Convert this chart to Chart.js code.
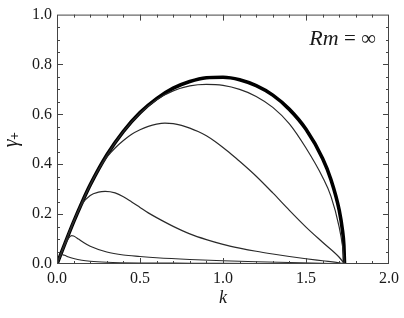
<!DOCTYPE html>
<html>
<head>
<meta charset="utf-8">
<script src="https://cdn.jsdelivr.net/npm/chart.js@4.4.1/dist/chart.umd.min.js"></script>
<style>
  html, body { margin: 0; padding: 0; background: #fff; }
  canvas { display: block; }
</style>
</head>
<body>
<canvas id="c" width="404" height="318"></canvas>
<script>
// Growth rate gamma_+ against k, Rm = infinity. Outer (thick) curve is the envelope,
// thinner curves peel off it at smaller k.
const kOuter = [0, 0.03, 0.05, 0.1, 0.15, 0.2, 0.3, 0.4, 0.5, 0.6, 0.7, 0.8, 0.9, 1.0, 1.1, 1.2, 1.3, 1.4, 1.5, 1.6, 1.65, 1.7, 1.72, 1.728, 1.732];
const gOuter = [0, 0.052, 0.086, 0.169, 0.246, 0.317, 0.437, 0.532, 0.607, 0.663, 0.705, 0.732, 0.747, 0.749, 0.739, 0.715, 0.677, 0.620, 0.540, 0.423, 0.339, 0.216, 0.133, 0.077, 0];

const kA = [0, 0.1, 0.2, 0.3, 0.4, 0.5, 0.6, 0.7, 0.8, 0.9, 1.0, 1.1, 1.2, 1.3, 1.4, 1.5, 1.6, 1.65, 1.7, 1.72, 1.732];
const gA = [0, 0.169, 0.317, 0.436, 0.531, 0.605, 0.659, 0.694, 0.714, 0.720, 0.716, 0.700, 0.672, 0.628, 0.562, 0.465, 0.348, 0.272, 0.148, 0.072, 0];

const kB = [0, 0.1, 0.2, 0.25, 0.3, 0.35, 0.4, 0.45, 0.5, 0.55, 0.6, 0.65, 0.7, 0.75, 0.8, 0.85, 0.9, 0.95, 1.0, 1.05, 1.1, 1.2, 1.3, 1.4, 1.5, 1.6, 1.7, 1.732];
const gB = [0, 0.169, 0.317, 0.378, 0.428, 0.465, 0.495, 0.520, 0.538, 0.552, 0.561, 0.565, 0.563, 0.556, 0.545, 0.531, 0.514, 0.492, 0.467, 0.440, 0.412, 0.352, 0.285, 0.215, 0.148, 0.087, 0.027, 0];

const kC = [0, 0.05, 0.1, 0.15, 0.2, 0.25, 0.29, 0.35, 0.4, 0.45, 0.5, 0.55, 0.6, 0.7, 0.8, 0.9, 1.0, 1.1, 1.2, 1.3, 1.4, 1.5, 1.6, 1.7, 1.732];
const gC = [0, 0.086, 0.169, 0.240, 0.275, 0.288, 0.291, 0.285, 0.270, 0.249, 0.227, 0.205, 0.186, 0.151, 0.121, 0.098, 0.079, 0.064, 0.051, 0.040, 0.030, 0.021, 0.013, 0.005, 0];

const kD = [0, 0.03, 0.05, 0.07, 0.088, 0.1, 0.13, 0.16, 0.2, 0.3, 0.4, 0.5, 0.6, 0.8, 1.0, 1.2, 1.4, 1.6, 1.732];
const gD = [0, 0.052, 0.080, 0.104, 0.114, 0.112, 0.100, 0.086, 0.071, 0.048, 0.036, 0.030, 0.025, 0.018, 0.013, 0.009, 0.006, 0.003, 0];

const kE = [0, 0.015, 0.028, 0.045, 0.07, 0.1, 0.15, 0.2, 0.3, 0.5, 0.8, 1.2, 1.732];
const gE = [0, 0.026, 0.038, 0.035, 0.028, 0.022, 0.015, 0.011, 0.007, 0.004, 0.003, 0.002, 0];

const xTickLabels = ["0.0", "0.5", "1.0", "1.5", "2.0"];
const yTickLabels = ["0.0", "0.2", "0.4", "0.6", "0.8", "1.0"];

const SERIF = '"Liberation Serif", "Times New Roman", Tinos, "Nimbus Roman", "Noto Serif", "DejaVu Serif", serif';
const INK = "#1a1a1a";
const FRAME = "#444";

const pts = (ks, gs) => ks.map((k, i) => ({ x: k, y: gs[i] }));

function curve(ks, gs, width) {
  return {
    data: pts(ks, gs),
    borderColor: width > 2 ? "#000" : "#2a2a2a",
    borderWidth: width,
    pointRadius: 0,
    showLine: true,
    fill: false,
    cubicInterpolationMode: "monotone",
  };
}

const isMajor = (v, step) => Math.abs(v / step - Math.round(v / step)) < 1e-6;

// Inward ticks on all four sides, a frame, and the Rm label.
const frameTicks = {
  id: "frameTicks",
  afterDraw(chart) {
    const { ctx, chartArea: a, scales: { x, y } } = chart;
    ctx.save();
    ctx.strokeStyle = FRAME;
    ctx.lineWidth = 1;
    ctx.strokeRect(a.left + 0.5, a.top + 0.5, a.right - a.left - 1, a.bottom - a.top - 1);
    ctx.beginPath();
    x.ticks.forEach((t) => {
      const px = Math.round(x.getPixelForValue(t.value)) + 0.5;
      if (px <= a.left + 1 || px >= a.right - 1) return;
      const len = isMajor(t.value, 0.5) ? 6 : 3;
      ctx.moveTo(px, a.bottom); ctx.lineTo(px, a.bottom - len);
      ctx.moveTo(px, a.top); ctx.lineTo(px, a.top + len);
    });
    y.ticks.forEach((t) => {
      const py = Math.round(y.getPixelForValue(t.value)) + 0.5;
      if (py <= a.top + 1 || py >= a.bottom - 1) return;
      const len = isMajor(t.value, 0.2) ? 6 : 3;
      ctx.moveTo(a.left, py); ctx.lineTo(a.left + len, py);
      ctx.moveTo(a.right, py); ctx.lineTo(a.right - len, py);
    });
    ctx.stroke();

    // "Rm = ∞" in the upper right corner
    ctx.fillStyle = INK;
    ctx.textBaseline = "alphabetic";
    ctx.textAlign = "left";
    const base = a.top + 30;
    const right = a.right - 13;
    ctx.font = `21px ${SERIF}`;
    const rest = " = \u221E";
    const wRest = ctx.measureText(rest).width;
    ctx.font = `italic 22px ${SERIF}`;
    const wRm = ctx.measureText("Rm").width;
    const x0 = right - wRest - wRm;
    ctx.fillText("Rm", x0, base);
    ctx.font = `21px ${SERIF}`;
    ctx.fillText(rest, x0 + wRm, base);
    ctx.restore();
  },
};

new Chart(document.getElementById("c"), {
  type: "scatter",
  data: {
    datasets: [
      curve(kE, gE, 1.2),
      curve(kD, gD, 1.2),
      curve(kC, gC, 1.2),
      curve(kB, gB, 1.2),
      curve(kA, gA, 1.2),
      curve(kOuter, gOuter, 3.6),
    ],
  },
  options: {
    responsive: false,
    animation: false,
    layout: { padding: { left: 0, top: 13, right: 13, bottom: 0 } },
    plugins: { legend: { display: false }, tooltip: { enabled: false } },
    scales: {
      x: {
        type: "linear",
        min: 0,
        max: 2,
        afterFit: (s) => { s.height = 54; },
        afterBuildTicks: (s) => {
          const ticks = [];
          for (let i = 0; i <= 20; i++) ticks.push({ value: i / 10 });
          s.ticks = ticks;
        },
        ticks: {
          autoSkip: false,
          maxRotation: 0,
          padding: 5,
          color: INK,
          font: { family: SERIF, size: 16 },
          callback: (v) => (isMajor(v, 0.5) ? xTickLabels[Math.round(v / 0.5)] : ""),
        },
        grid: { display: false, drawTicks: false },
        border: { display: false },
        title: {
          display: true,
          text: "k",
          color: INK,
          font: { family: SERIF, size: 18, style: "italic" },
          padding: { top: 0, bottom: 9 },
        },
      },
      y: {
        type: "linear",
        min: 0,
        max: 1,
        afterFit: (s) => { s.width = 57; },
        afterBuildTicks: (s) => {
          const ticks = [];
          for (let i = 0; i <= 20; i++) ticks.push({ value: i / 20 });
          s.ticks = ticks;
        },
        ticks: {
          autoSkip: false,
          padding: 5,
          color: INK,
          font: { family: SERIF, size: 16 },
          callback: (v) => (isMajor(v, 0.2) ? yTickLabels[Math.round(v / 0.2)] : ""),
        },
        grid: { display: false, drawTicks: false },
        border: { display: false },
        title: {
          display: true,
          text: "\u03B3\u208A",
          color: INK,
          font: { family: SERIF, size: 20, style: "italic" },
          padding: { top: 0, bottom: 0 },
        },
      },
    },
  },
  plugins: [frameTicks],
});
</script>
</body>
</html>
